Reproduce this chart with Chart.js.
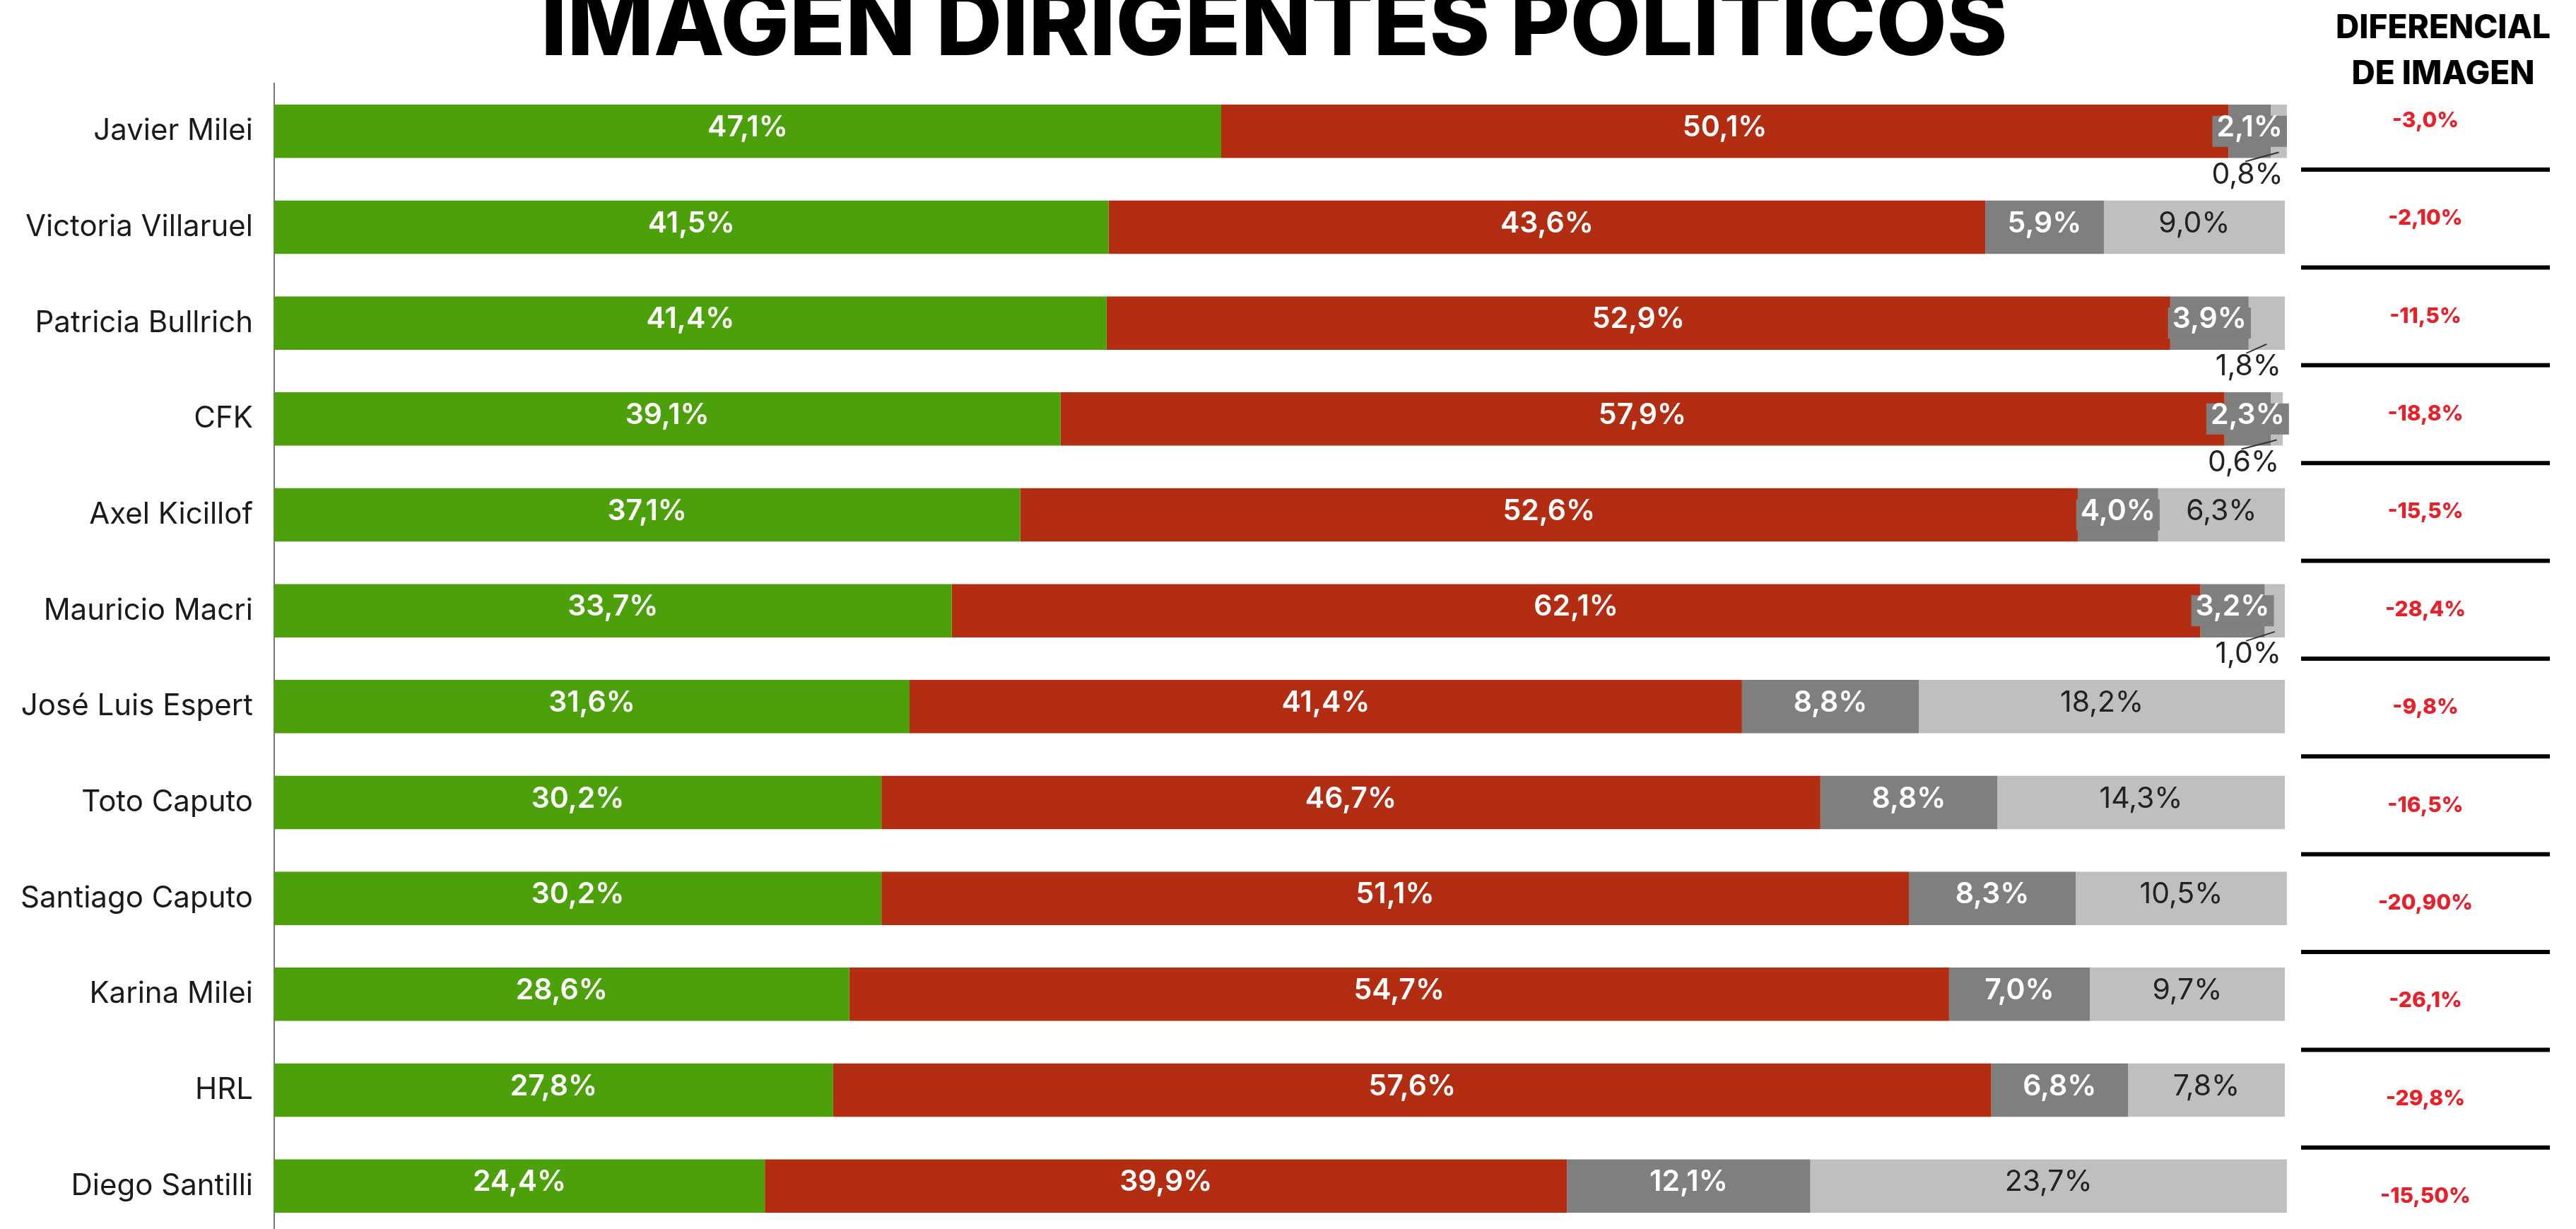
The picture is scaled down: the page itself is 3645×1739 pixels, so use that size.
<!DOCTYPE html>
<html lang="es">
<head>
<meta charset="utf-8">
<title>Imagen dirigentes políticos</title>
<script src="https://cdn.jsdelivr.net/npm/chart.js@4"></script>
<style>
  html, body { margin: 0; padding: 0; background: #fff; overflow: hidden; }
  #wrap { position: relative; width: 3645px; height: 1739px; overflow: hidden; }
  #chart { position: absolute; left: 0; top: 0; }
  .title {
    position: absolute; left: 1803px; top: -34px; transform: translateX(-50%);
    font: 800 130px/130px Inter, sans-serif; white-space: nowrap; color: #000;
  }
  .diff-head {
    position: absolute; left: 3457px; top: 5px; transform: translateX(-50%);
    font: 800 46px/65px Inter, sans-serif; text-align: center; white-space: nowrap; color: #000;
  }
</style>
</head>
<body>
<div id="wrap">
  <canvas id="chart" width="3645" height="1746"></canvas>
  <div class="title">IMAGEN DIRIGENTES POLITICOS</div>
  <div class="diff-head">DIFERENCIAL<br>DE IMAGEN</div>
</div>
<script>
const candidates = [
  'Javier Milei', 'Victoria Villaruel', 'Patricia Bullrich', 'CFK',
  'Axel Kicillof', 'Mauricio Macri', 'José Luis Espert', 'Toto Caputo',
  'Santiago Caputo', 'Karina Milei', 'HRL', 'Diego Santilli'
];
const positiva = [47.1, 41.5, 41.4, 39.1, 37.1, 33.7, 31.6, 30.2, 30.2, 28.6, 27.8, 24.4];
const negativa = [50.1, 43.6, 52.9, 57.9, 52.6, 62.1, 41.4, 46.7, 51.1, 54.7, 57.6, 39.9];
const regular  = [2.1, 5.9, 3.9, 2.3, 4.0, 3.2, 8.8, 8.8, 8.3, 7.0, 6.8, 12.1];
const nsnc     = [0.8, 9.0, 1.8, 0.6, 6.3, 1.0, 18.2, 14.3, 10.5, 9.7, 7.8, 23.7];
const diferencial = ['-3,0%', '-2,10%', '-11,5%', '-18,8%', '-15,5%', '-28,4%',
  '-9,8%', '-16,5%', '-20,90%', '-26,1%', '-29,8%', '-15,50%'];

const fmt = v => v.toFixed(1).replace('.', ',') + '%';

// value labels inside each segment (small ones get a box or go under the bar)
const segmentLabels = {
  id: 'segmentLabels',
  afterDatasetsDraw(chart) {
    const ctx = chart.ctx;
    ctx.save();
    chart.data.datasets.forEach((ds, d) => {
      const light = d === 3;
      chart.getDatasetMeta(d).data.forEach((bar, i) => {
        const txt = fmt(ds.data[i]);
        const left = Math.min(bar.base, bar.x);
        const right = Math.max(bar.base, bar.x);
        const cx = (left + right) / 2;
        const ty = bar.y - 5;
        ctx.font = (light ? '400' : '600') + ' 41px Inter';
        const tw = ctx.measureText(txt).width;
        ctx.textAlign = 'center';
        ctx.textBaseline = 'middle';
        if (tw + 8 <= right - left) {
          ctx.fillStyle = light ? '#222' : '#fff';
          ctx.fillText(txt, cx, ty);
        } else if (!light) {
          ctx.fillStyle = ds.backgroundColor;
          ctx.fillRect(cx - tw / 2 - 6, bar.y - 22, tw + 12, 44);
          ctx.fillStyle = '#fff';
          ctx.fillText(txt, cx, ty);
        } else {
          const bottom = bar.y + bar.height / 2;
          const lx = right - 5 - tw / 2;
          ctx.fillStyle = '#222';
          ctx.textBaseline = 'alphabetic';
          ctx.fillText(txt, lx, bottom + 36);
          ctx.strokeStyle = '#333';
          ctx.lineWidth = 2;
          ctx.beginPath();
          ctx.moveTo(lx - 3, bottom + 5);
          ctx.lineTo(cx, bottom - 8);
          ctx.stroke();
        }
      });
    });
    ctx.restore();
  }
};

// right hand column: image differential with separators.
// its rows run a little looser than the bars, so stretch the y scale a bit
const diffColumn = {
  id: 'diffColumn',
  afterDraw(chart) {
    const {ctx, chartArea} = chart;
    const y = chart.scales.y;
    const c0 = y.getPixelForValue(0);
    const rowY = v => c0 - 15 + (y.getPixelForValue(v) - c0) * 1.02;
    const x0 = chartArea.right + 23, x1 = chartArea.right + 375;
    const cx = (x0 + x1) / 2;
    ctx.save();
    ctx.strokeStyle = '#000';
    ctx.lineWidth = 6;
    for (let i = 0; i < diferencial.length - 1; i++) {
      const ly = rowY(i + 0.5);
      ctx.beginPath();
      ctx.moveTo(x0, ly);
      ctx.lineTo(x1, ly);
      ctx.stroke();
    }
    ctx.fillStyle = '#E8202A';
    ctx.font = '800 30px Inter';
    ctx.textAlign = 'center';
    ctx.textBaseline = 'middle';
    diferencial.forEach((t, i) => ctx.fillText(t, cx, rowY(i)));
    ctx.restore();
  }
};

Chart.defaults.font.family = 'Inter';

new Chart(document.getElementById('chart'), {
  type: 'bar',
  data: {
    labels: candidates,
    datasets: [
      { label: 'Positiva', data: positiva, backgroundColor: '#4CA10A' },
      { label: 'Negativa', data: negativa, backgroundColor: '#B22D12' },
      { label: 'Regular', data: regular, backgroundColor: '#7F7F7F' },
      { label: 'Ns/Nc', data: nsnc, backgroundColor: '#BFBFBF' }
    ]
  },
  options: {
    indexAxis: 'y',
    responsive: false,
    animation: false,
    layout: { padding: { top: 118, right: 412, left: 0, bottom: 0 } },
    datasets: { bar: { barPercentage: 0.556, categoryPercentage: 1, borderWidth: 0, clip: false } },
    scales: {
      x: { stacked: true, min: 0, max: 100, display: false },
      y: {
        stacked: true,
        grid: { display: false, drawTicks: false },
        border: { display: true, color: '#7a7a7a', width: 2 },
        ticks: { color: '#1a1a1a', font: { size: 42 }, padding: 30 },
        afterFit: s => { s.width = 388; s.paddingTop = 0; s.paddingBottom = 0; }
      }
    },
    plugins: { legend: { display: false }, tooltip: { enabled: false } }
  },
  plugins: [segmentLabels, diffColumn]
});
</script>
</body>
</html>
